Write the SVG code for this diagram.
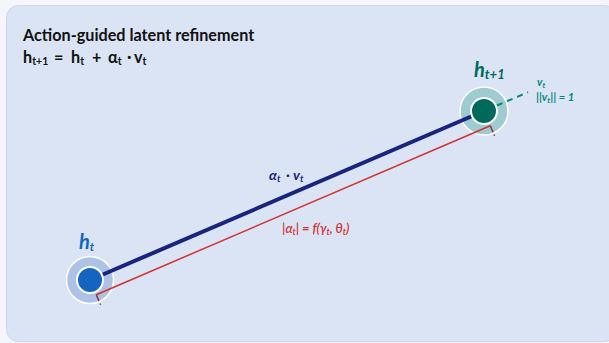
<svg xmlns="http://www.w3.org/2000/svg" width="609" height="343" viewBox="0 0 609 343">
<style>
  text { font-family: Lato, "Liberation Sans", sans-serif; }
  .title { font-size: 16.2px; font-weight: bold; fill: #111111; }
  .ring { stroke: #ffffff; stroke-width: 1.5; }
  .core { stroke: #ffffff; stroke-width: 2; }
  .lbl { font-weight: bold; font-style: italic; }
  .tick { stroke: #8e3444; stroke-width: 1.5; fill: none; stroke-dasharray: 7 2.5 1.5 6; }
</style>
<rect x="0" y="0" width="609" height="343" fill="#f4f6fb"/>
<rect x="6.5" y="5.5" width="610" height="336" rx="12" fill="#dae4f5" stroke="#c9d6ed" stroke-width="1"/>
<g id="title">
  <text class="title" x="23" y="41">Action-guided latent refinement</text>
  <text class="title" x="23" y="63">h<tspan font-size="10.5" dy="2">t+1</tspan><tspan dy="-2" x="54">=</tspan><tspan x="71">h</tspan><tspan font-size="10.5" dy="2">t</tspan><tspan dy="-2" x="92">+</tspan><tspan x="108">α</tspan><tspan font-size="10.5" dy="2">t</tspan><tspan dy="-2" x="127">·</tspan><tspan x="134">v</tspan><tspan font-size="10.5" dy="2">t</tspan></text>
</g>
<g id="node-ht">
  <circle class="ring" cx="90" cy="280" r="23.5" fill="#adc3e6"/>
  <circle class="core" cx="90" cy="280" r="13" fill="#1565c0"/>
  <text class="lbl" x="79" y="249" font-size="20" fill="#1565c0">h<tspan font-size="12" dy="2">t</tspan></text>
</g>
<g id="node-ht1">
  <circle class="ring" cx="484" cy="111" r="24" fill="#9dcbd0"/>
  <circle class="core" cx="484" cy="111" r="13" fill="#00695c"/>
  <text class="lbl" x="474" y="77" font-size="20" fill="#00695c">h<tspan font-size="13" dy="2">t+1</tspan></text>
</g>
<g id="connectors">
  <line x1="102.9" y1="274.5" x2="471.1" y2="116.5" stroke="#1a237e" stroke-width="4"/>
  <line x1="96.3" y1="294.7" x2="490.3" y2="125.7" stroke="#d32f2f" stroke-width="1.5"/>
  <line class="tick" x1="96.3" y1="294.7" x2="100.6" y2="304.8"/>
  <line class="tick" x1="490.3" y1="125.7" x2="494.6" y2="135.8"/>
  <line x1="496.9" y1="105.5" x2="528" y2="92.2" stroke="#00897b" stroke-width="2" stroke-dasharray="6 5"/>
</g>
<g id="labels">
  <text class="lbl" x="269" y="180" font-size="14" fill="#1a237e">α<tspan font-size="9.5" dy="2">t</tspan><tspan dy="-2" x="286">·</tspan><tspan x="293">v</tspan><tspan font-size="9.5" dy="2">t</tspan></text>
  <text x="282" y="233" font-size="12.8" font-style="italic" font-weight="600" fill="#d32f2f">|α<tspan font-size="9" dy="1.5">t</tspan><tspan dy="-1.5">| = f(γ</tspan><tspan font-size="9" dy="1.5">t</tspan><tspan dy="-1.5">, θ</tspan><tspan font-size="9" dy="1.5">t</tspan><tspan dy="-1.5">)</tspan></text>
  <text class="lbl" x="537" y="86" font-size="11" fill="#00897b">v<tspan font-size="7.5" dy="1.5">t</tspan></text>
  <text class="lbl" x="536" y="101" font-size="11.2" fill="#00897b">||v<tspan font-size="8" dy="1.5">t</tspan><tspan dy="-1.5">|| = 1</tspan></text>
</g>
</svg>
